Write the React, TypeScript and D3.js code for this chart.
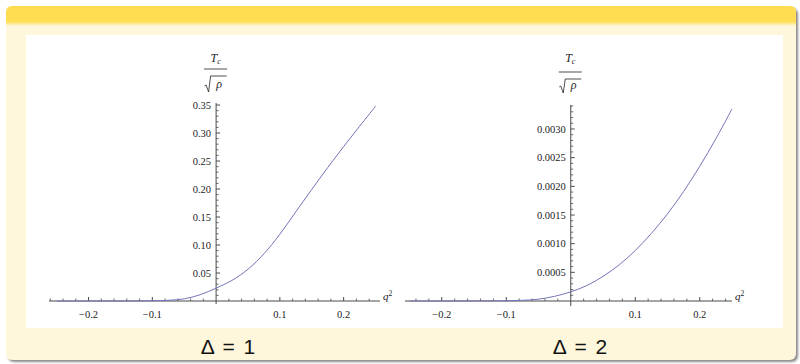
import React from 'react';
import * as d3 from 'd3';

// ---- data ----
const q2Delta1 = [-0.25, -0.2, -0.15, -0.125, -0.1, -0.075, -0.05, -0.025, 0, 0.025, 0.05, 0.075, 0.1, 0.125, 0.15, 0.175, 0.2, 0.225, 0.25];
const tcDelta1 = [0, 0, 0.00003, 0.0001, 0.0004, 0.0013, 0.0038, 0.0112, 0.023, 0.0368, 0.0568, 0.0843, 0.1193, 0.1593, 0.1993, 0.2383, 0.2758, 0.3121, 0.3476];

const q2Delta2 = [-0.25, -0.2, -0.15, -0.125, -0.1, -0.075, -0.05, -0.025, 0, 0.025, 0.05, 0.075, 0.1, 0.125, 0.15, 0.175, 0.2, 0.225, 0.25];
const tcDelta2 = [0, 0, 0.000001, 0.000002, 0.000004, 0.000012, 0.000032, 0.000082, 0.00016, 0.00027, 0.00043, 0.00063, 0.00088, 0.00118, 0.00152, 0.00191, 0.00235, 0.00283, 0.00335];

const xTickValues = [-0.2, -0.1, 0.1, 0.2];
const xTickLabels = ['\u22120.2', '\u22120.1', '0.1', '0.2'];
const yTickValues1 = [0.05, 0.1, 0.15, 0.2, 0.25, 0.3, 0.35];
const yTickLabels1 = ['0.05', '0.10', '0.15', '0.20', '0.25', '0.30', '0.35'];
const yTickValues2 = [0.0005, 0.001, 0.0015, 0.002, 0.0025, 0.003];
const yTickLabels2 = ['0.0005', '0.0010', '0.0015', '0.0020', '0.0025', '0.0030'];
const panelTitles = ['\u0394 = 1', '\u0394 = 2'];

type Panel = {
  xs: number[];
  ys: number[];
  yTicks: number[];
  yLabels: string[];
  xDomain: [number, number];
  xRange: [number, number];
  yDomain: [number, number];
  yRange: [number, number];
  yAxisExt: [number, number];
  yMinorStep: number;
  labelLineY: number;
  tY: number;
  sqrtTop: number;
  sqrtBottom: number;
  title: string;
  titleX: number;
};

const panels: Panel[] = [
  {
    xs: q2Delta1, ys: tcDelta1, yTicks: yTickValues1, yLabels: yTickLabels1,
    xDomain: [-0.262, 0.257], xRange: [49, 380],
    yDomain: [0, 0.35], yRange: [301, 105],
    yAxisExt: [-0.0055, 0.3535], yMinorStep: 0.01,
    labelLineY: 69, tY: 62, sqrtTop: 76, sqrtBottom: 92,
    title: panelTitles[0], titleX: 228,
  },
  {
    xs: q2Delta2, ys: tcDelta2, yTicks: yTickValues2, yLabels: yTickLabels2,
    xDomain: [-0.257, 0.25], xRange: [405, 732],
    yDomain: [0, 0.003], yRange: [301, 129],
    yAxisExt: [-0.00009, 0.00342], yMinorStep: 0.0001,
    labelLineY: 72, tY: 62, sqrtTop: 79, sqrtBottom: 93,
    title: panelTitles[1], titleX: 580,
  },
];

const AXIS = '#4a4a4a';
const CURVE = '#7474bb';
const SERIF = '"Liberation Serif", "DejaVu Serif", serif';
const SANS = '"Liberation Sans", Arial, sans-serif';

function PanelView({ p }: { p: Panel }) {
  const x = d3.scaleLinear().domain(p.xDomain).range(p.xRange);
  const y = d3.scaleLinear().domain(p.yDomain).range(p.yRange);
  const x0 = x(0);
  const y0 = y(0);
  const line = d3.line<number>()
    .x((_, i) => x(p.xs[i]))
    .y((d) => y(d))
    .curve(d3.curveCatmullRom.alpha(0.5));

  const xMinor: number[] = [];
  for (let k = Math.ceil(p.xDomain[0] / 0.02); k * 0.02 <= p.xDomain[1] + 1e-9; k++) {
    const v = +(k * 0.02).toFixed(4);
    if (Math.abs(v) < 1e-9) continue;
    if (xTickValues.some((t) => Math.abs(t - v) < 1e-9)) continue;
    xMinor.push(v);
  }
  const yMinor: number[] = [];
  for (let k = 1; k * p.yMinorStep <= p.yAxisExt[1] + 1e-12; k++) {
    const v = k * p.yMinorStep;
    if (p.yTicks.some((t) => Math.abs(t - v) < p.yMinorStep * 0.01)) continue;
    yMinor.push(v);
  }

  const cx = x0 - 0.5;
  const fracHalf = 11.5;
  return (
    <g>
      {/* x axis */}
      <line x1={p.xRange[0]} x2={p.xRange[1]} y1={y0} y2={y0} stroke={AXIS} strokeWidth={1} />
      {xTickValues.map((v) => (
        <line key={'xt' + v} x1={x(v)} x2={x(v)} y1={y0} y2={y0 - 4} stroke={AXIS} strokeWidth={1} />
      ))}
      {xMinor.map((v) => (
        <line key={'xm' + v} x1={x(v)} x2={x(v)} y1={y0} y2={y0 - 2.5} stroke={AXIS} strokeWidth={0.8} />
      ))}
      {xTickValues.map((v, i) => (
        <text key={'xl' + v} x={x(v)} y={318} textAnchor="middle" fontFamily={SERIF} fontSize={10.5} fill="#222">
          {xTickLabels[i]}
        </text>
      ))}
      <text x={p.xRange[1] + 3} y={300} fontFamily={SERIF} fontSize={11} fontStyle="italic" fill="#222">
        q<tspan fontSize={7.5} fontStyle="normal" dy={-4}>2</tspan>
      </text>

      {/* y axis */}
      <line x1={x0} x2={x0} y1={y(p.yAxisExt[0])} y2={y(p.yAxisExt[1])} stroke={AXIS} strokeWidth={1} />
      {p.yTicks.map((v) => (
        <line key={'yt' + v} x1={x0} x2={x0 + 4} y1={y(v)} y2={y(v)} stroke={AXIS} strokeWidth={1} />
      ))}
      {yMinor.map((v) => (
        <line key={'ym' + v} x1={x0} x2={x0 + 2.5} y1={y(v)} y2={y(v)} stroke={AXIS} strokeWidth={0.8} />
      ))}
      {p.yTicks.map((v, i) => (
        <text key={'yl' + v} x={x0 - 5} y={y(v) + 3.5} textAnchor="end" fontFamily={SERIF} fontSize={10.5} fill="#222">
          {p.yLabels[i]}
        </text>
      ))}

      {/* y label: Tc / sqrt(rho) */}
      <text x={cx} y={p.tY} textAnchor="middle" fontFamily={SERIF} fontSize={12} fontStyle="italic" fill="#222">
        T<tspan fontSize={8} dy={2}>c</tspan>
      </text>
      <line x1={cx - fracHalf} x2={cx + fracHalf} y1={p.labelLineY} y2={p.labelLineY} stroke="#222" strokeWidth={0.8} />
      <path
        d={`M${cx - 11},${p.sqrtBottom - 6} L${cx - 9.5},${p.sqrtBottom - 7} L${cx - 7},${p.sqrtBottom} L${cx - 5},${p.sqrtTop} L${cx + 11},${p.sqrtTop}`}
        fill="none" stroke="#222" strokeWidth={0.8}
      />
      <text x={cx + 3.5} y={p.sqrtBottom - 4} textAnchor="middle" fontFamily={SERIF} fontSize={12} fontStyle="italic" fill="#222">
        ρ
      </text>

      {/* curve */}
      <path d={line(p.ys) || ''} fill="none" stroke={CURVE} strokeWidth={1} />

      {/* panel title */}
      <text x={p.titleX} y={354} textAnchor="middle" fontFamily={SANS} fontSize={21} fill="#111" wordSpacing={3} style={{ whiteSpace: 'pre' }}>
        {p.title}
      </text>
    </g>
  );
}

export default function App() {
  return (
    <svg width={800} height={364} style={{ position: 'absolute', left: 0, top: 0 }}>
      <defs>
        <linearGradient id="hdr" x1="0" y1="0" x2="0" y2="1">
          <stop offset="0" stopColor="#FFDC4E" />
          <stop offset="0.78" stopColor="#FFDE55" />
          <stop offset="1" stopColor="#FEF7DC" />
        </linearGradient>
        <filter id="sh" x="-5%" y="-5%" width="110%" height="110%">
          <feGaussianBlur stdDeviation="1" />
        </filter>
      </defs>
      <rect x={0} y={0} width={800} height={364} fill="#ffffff" />
      {/* shadow */}
      <rect x={8} y={8} width={790} height={354} rx={6} fill="#8a8a8a" filter="url(#sh)" />
      {/* body */}
      <rect x={6} y={6} width={790} height={354} rx={6} fill="#FEF7DC" />
      {/* header */}
      <path d="M6,26 L6,12 Q6,6 12,6 L790,6 Q796,6 796,12 L796,26 Z" fill="url(#hdr)" />
      {/* white plot area */}
      <rect x={26} y={35} width={757} height={293} fill="#ffffff" />
      {panels.map((p, i) => (
        <PanelView key={i} p={p} />
      ))}
    </svg>
  );
}
